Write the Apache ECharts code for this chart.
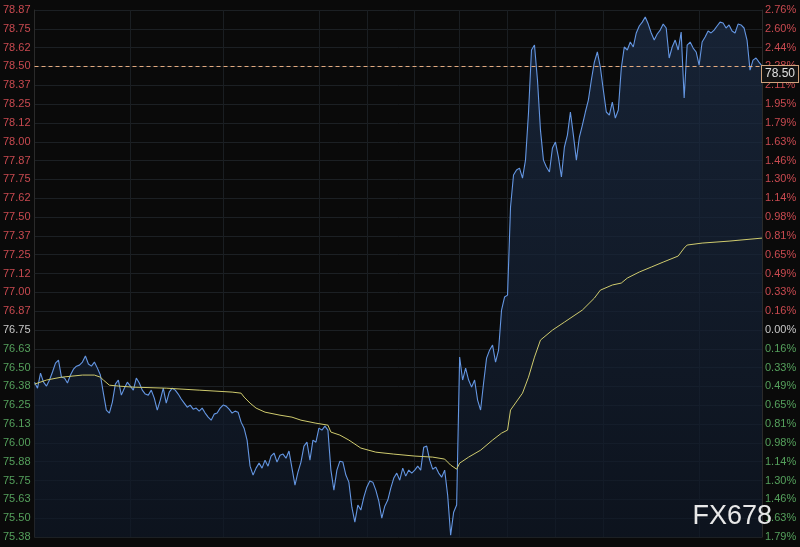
<!DOCTYPE html>
<html><head><meta charset="utf-8">
<script src="https://cdn.jsdelivr.net/npm/echarts@6/dist/echarts.min.js"></script>
<style>html,body{margin:0;padding:0;background:#0a0a0a;}#c{width:800px;height:547px;}</style>
</head><body><div id="c"></div>
<script>
// ---- data ----
const prevClose = 76.75;
const tickStep = 0.12478;
const leftTicks = ['75.38','75.50','75.63','75.75','75.88','76.00','76.13','76.25','76.38','76.50','76.63','76.75','76.87','77.00','77.12','77.25','77.37','77.50','77.62','77.75','77.87','78.00','78.12','78.25','78.37','78.50','78.62','78.75','78.87'];
const rightTicks = ['1.79%','1.63%','1.46%','1.30%','1.14%','0.98%','0.81%','0.65%','0.49%','0.33%','0.16%','0.00%','0.16%','0.33%','0.49%','0.65%','0.81%','0.98%','1.14%','1.30%','1.46%','1.63%','1.79%','1.95%','2.11%','2.28%','2.44%','2.60%','2.76%'];
const price = [
76.404,76.364,76.464,76.404,76.378,76.418,76.471,76.530,76.550,76.437,
76.431,76.398,76.451,76.490,76.510,76.517,76.537,76.577,76.524,76.510,
76.537,76.497,76.451,76.331,76.219,76.199,76.272,76.391,76.418,76.318,
76.364,76.404,76.378,76.351,76.431,76.398,76.351,76.325,76.318,76.351,
76.298,76.219,76.285,76.364,76.265,76.338,76.364,76.351,76.325,76.292,
76.265,76.238,76.252,76.225,76.232,76.212,76.232,76.199,76.172,76.152,
76.192,76.199,76.232,76.252,76.245,76.225,76.199,76.212,76.205,76.139,
76.099,76.020,75.847,75.788,75.834,75.867,75.834,75.887,75.847,75.914,
75.934,75.874,75.920,75.927,75.900,75.947,75.834,75.721,75.808,75.874,
75.980,76.006,75.887,76.020,76.006,76.099,76.086,76.112,76.086,75.821,
75.688,75.821,75.880,75.874,75.788,75.741,75.575,75.476,75.589,75.556,
75.642,75.708,75.748,75.741,75.688,75.615,75.502,75.582,75.622,75.701,
75.768,75.801,75.754,75.834,75.781,75.821,75.801,75.821,75.847,75.821,
75.973,75.980,75.887,75.827,75.841,75.801,75.774,75.821,75.655,75.390,
75.542,75.589,76.570,76.418,76.497,76.418,76.371,76.418,76.285,76.219,
76.398,76.563,76.616,76.650,76.537,76.616,76.882,76.968,76.981,77.565,
77.777,77.810,77.823,77.757,77.876,78.188,78.606,78.639,78.407,78.075,
77.876,77.830,77.797,77.956,77.996,77.896,77.764,77.963,78.042,78.195,
78.042,77.876,78.029,78.108,78.195,78.274,78.407,78.526,78.593,78.493,
78.341,78.195,78.175,78.261,78.155,78.208,78.486,78.626,78.606,78.659,
78.626,78.719,78.765,78.791,78.825,78.778,78.719,78.672,78.712,78.738,
78.778,78.752,78.553,78.626,78.672,78.606,78.725,78.288,78.639,78.659,
78.619,78.593,78.506,78.659,78.692,78.732,78.719,78.738,78.765,78.791,
78.785,78.752,78.772,78.732,78.719,78.778,78.772,78.752,78.672,78.473,
78.539,78.553,78.526,78.500
];
const avgIdx = [0,4,9,16,20,22,23,25,28,33,44,55,66,69,70,72,74,77,82,86,89,94,98,99,102,105,109,114,120,127,133,137,139,141,142,145,149,153,156,158,159,163,165,167,169,173,177,183,187,189,193,196,198,202,206,210,215,217,218,223,232,243];
const avgVal = [76.391,76.418,76.437,76.451,76.451,76.437,76.418,76.384,76.378,76.371,76.364,76.351,76.338,76.331,76.305,76.265,76.232,76.205,76.185,76.172,76.152,76.132,76.119,76.073,76.053,76.020,75.967,75.940,75.927,75.914,75.907,75.894,75.854,75.827,75.867,75.907,75.953,76.020,76.066,76.086,76.219,76.331,76.437,76.570,76.683,76.749,76.802,76.882,76.961,77.014,77.048,77.061,77.094,77.134,77.167,77.200,77.240,77.293,77.313,77.326,77.339,77.359];
const gridIdx = [32,63,95,111,127,142,158,174,190,222];
const watermark = 'FX678';

// ---- chart ----
const times = price.map((_, i) => i);
const yMin = prevClose - 11 * tickStep;
const yMax = prevClose + 17 * tickStep;
const zeroIdx = 11;
const FONT = '"Liberation Sans", Arial, sans-serif';
function tickIndex(v) { return Math.round((v - yMin) / tickStep); }
function colored(v, arr) {
  const i = tickIndex(v);
  const t = arr[i] !== undefined ? arr[i] : '';
  if (i > zeroIdx) return '{r|' + t + '}';
  if (i < zeroIdx) return '{g|' + t + '}';
  return '{n|' + t + '}';
}
const rich = {
  r: { color: '#c94a50', fontSize: 11, fontFamily: FONT },
  g: { color: '#55a05c', fontSize: 11, fontFamily: FONT },
  n: { color: '#c8c8c8', fontSize: 11, fontFamily: FONT }
};
const chart = echarts.init(document.getElementById('c'), null, { renderer: 'canvas' });
chart.setOption({
  backgroundColor: '#0a0a0a',
  animation: false,
  grid: { left: 32, right: 38, top: 10, bottom: 10 },
  xAxis: {
    type: 'category', data: times, boundaryGap: false,
    axisLine: { show: false }, axisTick: { show: false }, axisLabel: { show: false },
    splitLine: { show: true, interval: (i) => gridIdx.indexOf(i) >= 0, lineStyle: { color: '#1a1e22', width: 1 } }
  },
  yAxis: [
    {
      type: 'value', position: 'left', min: yMin, max: yMax, interval: tickStep,
      axisLine: { show: true, lineStyle: { color: '#2a2a2a' } }, axisTick: { show: false },
      axisLabel: { margin: 4, formatter: (v) => colored(v, leftTicks), rich: rich },
      splitLine: { show: true, lineStyle: { color: '#1c2024', width: 1 } }
    },
    {
      type: 'value', position: 'right', min: yMin, max: yMax, interval: tickStep,
      axisLine: { show: true, lineStyle: { color: '#2a2a2a' } }, axisTick: { show: false },
      axisLabel: { margin: 3, formatter: (v) => colored(v, rightTicks), rich: rich },
      splitLine: { show: false }
    }
  ],
  series: [
    {
      type: 'line', data: price, yAxisIndex: 0, symbol: 'none', smooth: false,
      lineStyle: { color: '#6496e2', width: 1.1 },
      areaStyle: {
        origin: 'start',
        color: new echarts.graphic.LinearGradient(0, 0, 0, 1, [
          { offset: 0, color: '#1c2d47' }, { offset: 1, color: '#0e1726' }
        ])
      },
      markLine: {
        silent: true, symbol: ['none', 'none'], animation: false,
        lineStyle: { color: '#e2a97e', type: [4, 3], width: 1 },
        label: {
          show: true, position: 'end', distance: 0,
          formatter: (p) => '{s|}\n{b|' + p.value.toFixed(2) + '}',
          rich: {
            s: { height: 16, fontSize: 12 },
            b: {
              color: '#e0e0e0', fontSize: 12, fontFamily: FONT, height: 14, lineHeight: 14,
              backgroundColor: '#121212', borderColor: '#cfa27c', borderWidth: 1,
              padding: [1, 3, 1, 3]
            }
          }
        },
        data: [{ yAxis: price[price.length - 1] }]
      },
      z: 3
    },
    {
      type: 'line', data: avgIdx.map((i, k) => [i, avgVal[k]]), yAxisIndex: 0,
      symbol: 'none', lineStyle: { color: '#cfcb6e', width: 1 }, z: 4
    }
  ],
  graphic: [{
    type: 'text', right: 28, top: 503, z: 100,
    style: { text: watermark, fill: '#e8e8e8', font: '27px ' + FONT }
  }]
});
</script>
</body></html>
